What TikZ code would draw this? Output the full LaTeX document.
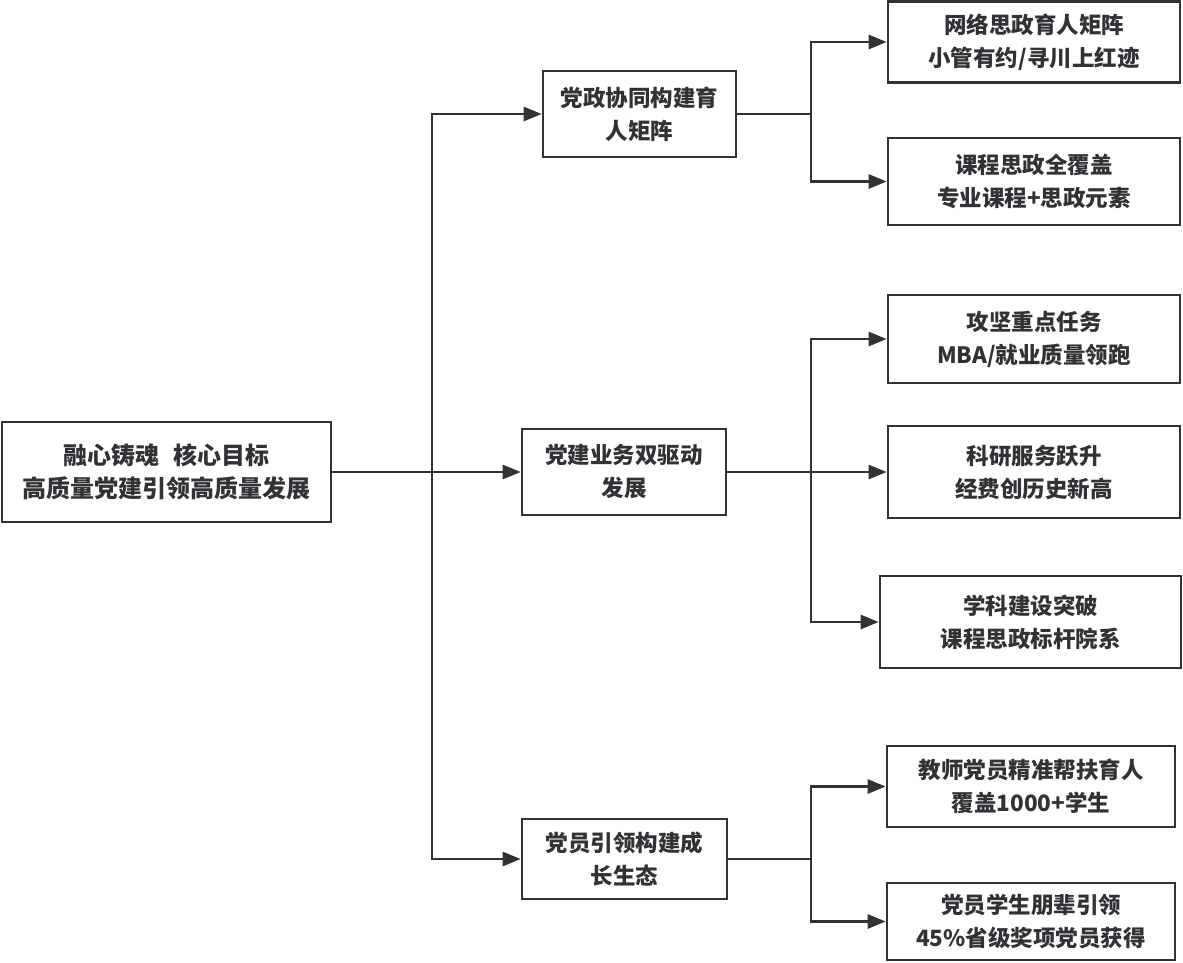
\documentclass[tikz,border=0pt]{standalone}
\usepackage{fontspec}
\usepackage{xcolor}
\usetikzlibrary{arrows.meta}
\newfontfamily\cjk{Noto Sans CJK SC}
\definecolor{ink}{RGB}{48,50,53}
\tikzset{
  every node/.style = {font = \cjk\bfseries\fontsize{22.5}{33}\selectfont, text=ink}
}
\tikzset{
    >={Triangle[length=18pt,width=14pt]}
}
\tikzset{
  box/.style = {draw=ink, line width=2.6pt, align=center, inner sep=0pt, fill=white},
  link/.style = {draw=ink, line width=2.6pt, ->}
}

\begin{document}
\begin{tikzpicture}[x=1pt,y=-1pt]
\useasboundingbox (0,0) rectangle (1183,962);
\def\tx{432}
\def\bx{811}

% Location of boxes
%         A    A1
% R       B    A2
%         C    B1 B2 B3
%              C1 C2

% The boxes
\node[box, minimum width=329pt, minimum height=100pt,
  font=\cjk\bfseries\fontsize{24}{33}\selectfont] (R) at (166.5,472)
  {融心铸魂\hspace{0.6em}核心目标\\高质量党建引领高质量发展};
\node[box, minimum width=193pt, minimum height=86pt] (A) at (639.5,114) {党政协同构建育\\人矩阵};
\node[box, minimum width=204pt, minimum height=86pt] (B) at (624,472) {党建业务双驱动\\发展};
\node[box, minimum width=205pt, minimum height=80pt] (C) at (624.5,859) {党员引领构建成\\长生态};

\node[box, minimum width=292pt, minimum height=81pt] (A1) at (1034,42) {网络思政育人矩阵\\小管有约/寻川上红迹};
\node[box, minimum width=292pt, minimum height=87pt] (A2) at (1034,181.5) {课程思政全覆盖\\专业课程+思政元素};
\node[box, minimum width=292pt, minimum height=88pt] (B1) at (1034,339) {攻坚重点任务\\MBA/就业质量领跑};
\node[box, minimum width=292pt, minimum height=92pt] (B2) at (1034,472) {科研服务跃升\\经费创历史新高};
\node[box, minimum width=301pt, minimum height=92pt] (B3) at (1030.5,622) {学科建设突破\\课程思政标杆院系};
\node[box, minimum width=288pt, minimum height=81pt] (C1) at (1031,786.5) {教师党员精准帮扶育人\\覆盖1000+学生};
\node[box, minimum width=288pt, minimum height=77pt] (C2) at (1031,921.5) {党员学生朋辈引领\\45\%省级奖项党员获得};

\coordinate (T) at (\tx,0);
\coordinate (U) at (\bx,0);

% The connectors
\draw[link] (R.east) -- (B.west);
\draw[link] (R.east) -- (R.east -| T) |- (A.west);
\draw[link] (R.east) -- (R.east -| T) |- (C.west);

\draw[link] (A.east) -- (A.east -| U) |- (A1.west);
\draw[link] (A.east) -- (A.east -| U) |- (A2.west);
\draw[link] (B.east) -- (B2.west);
\draw[link] (B.east) -- (B.east -| U) |- (B1.west);
\draw[link] (B.east) -- (B.east -| U) |- (B3.west);
\draw[link] (C.east) -- (C.east -| U) |- (C1.west);
\draw[link] (C.east) -- (C.east -| U) |- (C2.west);
\end{tikzpicture}
\end{document}
